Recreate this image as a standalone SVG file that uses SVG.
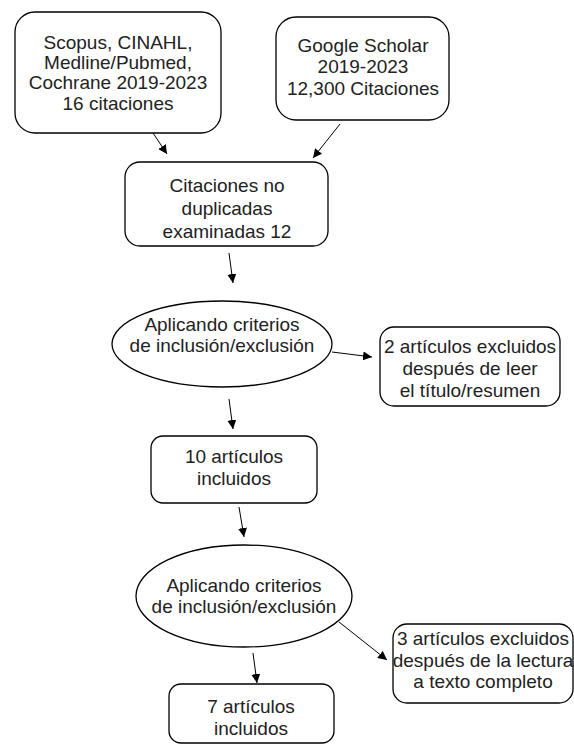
<svg xmlns="http://www.w3.org/2000/svg" width="574" height="744" viewBox="0 0 574 744">
<defs>
<marker id="ah" viewBox="0 0 10 10" refX="10" refY="5" markerWidth="9" markerHeight="9" markerUnits="userSpaceOnUse" orient="auto">
<path d="M0,0 L10,5 L0,10 z" fill="#000"/>
</marker>
<style>
.n{fill:#fff;stroke:#000;stroke-width:1.3}
.t{font-family:"Liberation Sans",Arial,sans-serif;font-size:19px;fill:#222;text-anchor:middle}
.c{stroke:#000;stroke-width:1;fill:none;marker-end:url(#ah)}
</style>
</defs>
<rect width="574" height="744" fill="#fff"/>
<g id="connectors">
<line class="c" x1="153" y1="133" x2="167" y2="154"/>
<line class="c" x1="340" y1="124" x2="313" y2="158"/>
<line class="c" x1="229" y1="253" x2="233" y2="283"/>
<line class="c" x1="332" y1="352" x2="372" y2="357"/>
<line class="c" x1="229" y1="399" x2="233" y2="429"/>
<line class="c" x1="239" y1="507" x2="244" y2="537"/>
<line class="c" x1="339" y1="622" x2="387" y2="660"/>
<line class="c" x1="253" y1="653" x2="257" y2="683"/>
</g>
<g id="n1">
<rect class="n" x="15" y="12" width="206" height="121" rx="20"/>
<text class="t" x="118" y="49">Scopus, CINAHL,</text>
<text class="t" x="118" y="69">Medline/Pubmed,</text>
<text class="t" x="118" y="89">Cochrane 2019-2023</text>
<text class="t" x="118" y="110">16 citaciones</text>
</g>
<g id="n2">
<rect class="n" x="276" y="17" width="173" height="103" rx="20"/>
<text class="t" x="363" y="52">Google Scholar</text>
<text class="t" x="363" y="73">2019-2023</text>
<text class="t" x="363" y="95">12,300 Citaciones</text>
</g>
<g id="n3">
<rect class="n" x="125" y="162" width="203" height="84" rx="15"/>
<text class="t" x="227" y="192">Citaciones no</text>
<text class="t" x="227" y="215">duplicadas</text>
<text class="t" x="227" y="238">examinadas 12</text>
</g>
<g id="n4">
<ellipse class="n" cx="222" cy="344" rx="110" ry="43"/>
<text class="t" x="222" y="331">Aplicando criterios</text>
<text class="t" x="222" y="352">de inclusión/exclusión</text>
</g>
<g id="n5">
<rect class="n" x="380" y="327" width="180" height="79" rx="14"/>
<text class="t" x="470" y="353">2 artículos excluidos</text>
<text class="t" x="470" y="375">después de leer</text>
<text class="t" x="470" y="397">el título/resumen</text>
</g>
<g id="n6">
<rect class="n" x="151" y="436" width="166" height="67" rx="12"/>
<text class="t" x="234" y="463">10 artículos</text>
<text class="t" x="234" y="485">incluidos</text>
</g>
<g id="n7">
<ellipse class="n" cx="244" cy="596" rx="108" ry="51"/>
<text class="t" x="244" y="592">Aplicando criterios</text>
<text class="t" x="244" y="613">de inclusión/exclusión</text>
</g>
<g id="n8">
<rect class="n" x="393" y="624" width="180" height="79" rx="14"/>
<text class="t" x="483" y="645">3 artículos excluidos</text>
<text class="t" x="483" y="667">después de la lectura</text>
<text class="t" x="483" y="688">a texto completo</text>
</g>
<g id="n9">
<rect class="n" x="169" y="684" width="165" height="59" rx="12"/>
<text class="t" x="251" y="713">7 artículos</text>
<text class="t" x="251" y="735">incluidos</text>
</g>
</svg>
